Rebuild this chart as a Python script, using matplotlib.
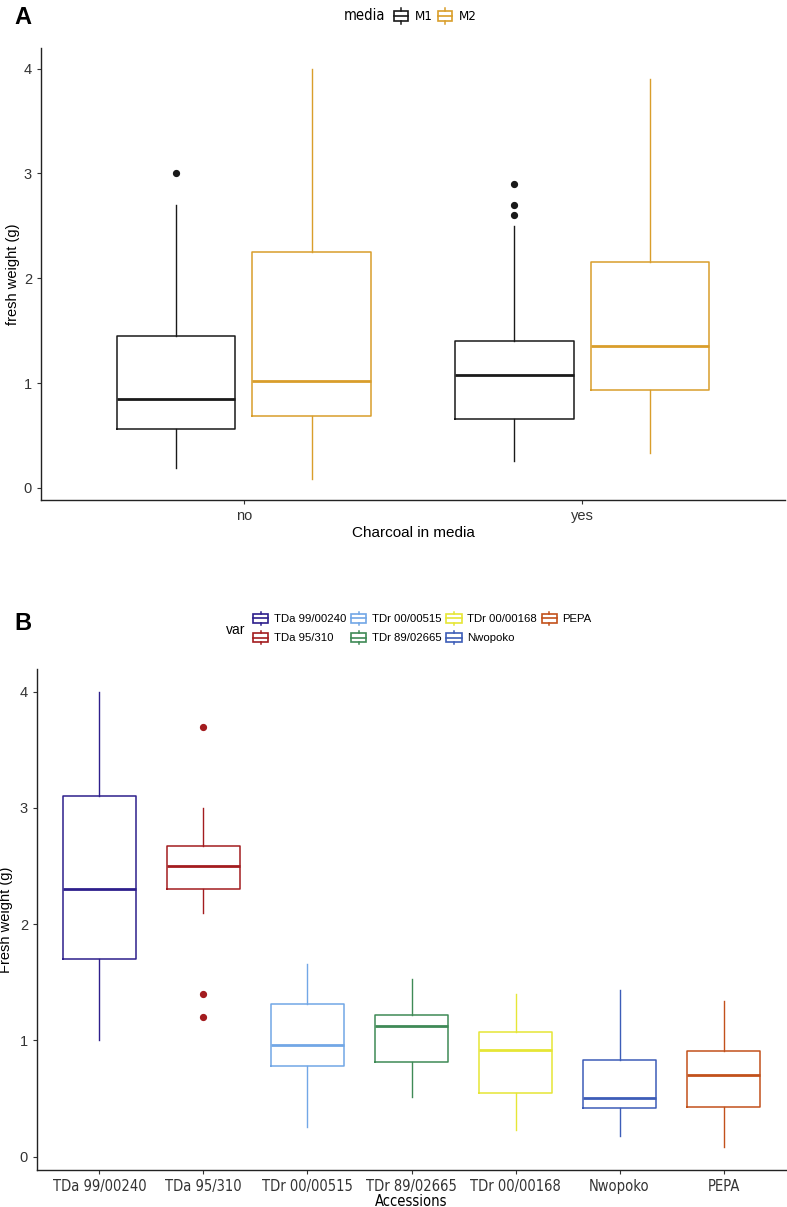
import matplotlib
matplotlib.use('Agg')
import matplotlib.pyplot as plt
import matplotlib.font_manager as fm
from matplotlib.lines import Line2D
from matplotlib.patches import Rectangle
from matplotlib.legend_handler import HandlerBase

plt.rcParams['font.family'] = ['Liberation Sans', 'DejaVu Sans']

# panel A: fresh weight by charcoal / media
charcoal = ['no', 'yes']
media = ['M1', 'M2']
media_colors = ['#1a1a1a', '#d99e2b']
# (whisker low, q1, median, q3, whisker high) per media, per charcoal level
m1_stats = [(0.19, 0.56, 0.85, 1.45, 2.70), (0.26, 0.66, 1.08, 1.40, 2.50)]
m2_stats = [(0.08, 0.69, 1.02, 2.25, 4.00), (0.33, 0.93, 1.35, 2.15, 3.90)]
m1_outliers = [[3.0], [2.9, 2.7, 2.6]]
m2_outliers = [[], []]

# panel B: fresh weight by accession
accessions = ['TDa 99/00240', 'TDa 95/310', 'TDr 00/00515', 'TDr 89/02665',
              'TDr 00/00168', 'Nwopoko', 'PEPA']
acc_colors = ['#2e1f8c', '#a31c1f', '#72a7e6', '#3f8a56', '#e6e636', '#3d5db8', '#c2511b']
acc_stats = [
    (1.00, 1.70, 2.30, 3.10, 4.00),
    (2.10, 2.30, 2.50, 2.67, 3.00),
    (0.25, 0.78, 0.96, 1.31, 1.66),
    (0.51, 0.81, 1.12, 1.22, 1.53),
    (0.23, 0.55, 0.92, 1.07, 1.40),
    (0.18, 0.42, 0.50, 0.83, 1.43),
    (0.08, 0.43, 0.70, 0.91, 1.34),
]
acc_outliers = [[], [3.7, 1.4, 1.2], [], [], [], [], []]

W, H = 787, 1207
tick_col = '#333333'


def find_narrow():
    # look for a condensed sans face; fall back to plain Liberation Sans
    cands = []
    for f in fm.fontManager.ttflist:
        if f.style != 'normal' or f.weight not in (400, 'normal', 'regular', 'book'):
            continue
        if f.name == 'Liberation Sans Narrow':
            cands.append((0, f.fname))
        elif f.name == 'DejaVu Sans' and 'ondensed' in str(f.stretch) + f.fname:
            cands.append((1, f.fname))
        elif 'Condensed' in f.name or 'Narrow' in f.name:
            cands.append((2, f.fname))
    if cands:
        cands.sort()
        return fm.FontProperties(fname=cands[0][1]), True
    return fm.FontProperties(family='Liberation Sans'), False


narrow_fp, has_narrow = find_narrow()


def to_bxp(st, fl):
    lo, q1, med, q3, hi = st
    return dict(whislo=lo, q1=q1, med=med, q3=q3, whishi=hi, fliers=fl)


def draw_box(ax, st, fl, pos, width, col):
    ax.bxp([to_bxp(st, fl)], positions=[pos], widths=width, showcaps=False,
           patch_artist=False,
           boxprops=dict(color=col, linewidth=1.1),
           whiskerprops=dict(color=col, linewidth=1.0),
           medianprops=dict(color=col, linewidth=2.0),
           flierprops=dict(marker='o', markerfacecolor=col, markeredgecolor=col,
                           markersize=4.2, linestyle='none'))


class BoxHandler(HandlerBase):
    def create_artists(self, legend, orig_handle, xdescent, ydescent,
                       width, height, fontsize, trans):
        c = orig_handle.get_color()
        bw = width
        x0 = -xdescent
        cy = -ydescent + height / 2
        bh = height * 0.62
        rect = Rectangle((x0, cy - bh / 2), bw, bh, fill=False, ec=c, lw=1.2, transform=trans)
        med = Line2D([x0, x0 + bw], [cy, cy], color=c, lw=1.2, transform=trans)
        xm = x0 + bw / 2
        w1 = Line2D([xm, xm], [cy + bh / 2, -ydescent + height], color=c, lw=1.1, transform=trans)
        w2 = Line2D([xm, xm], [cy - bh / 2, -ydescent], color=c, lw=1.1, transform=trans)
        return [rect, med, w1, w2]


def style_axes(ax):
    for s in ['top', 'right']:
        ax.spines[s].set_visible(False)
    for s in ['left', 'bottom']:
        ax.spines[s].set_linewidth(1.0)
        ax.spines[s].set_color('#222222')
    ax.tick_params(direction='out', length=3, width=0.8, color='#333333',
                   labelcolor=tick_col, labelsize=10.5)
    ax.set_ylim(-0.116, 4.196)
    ax.set_yticks([0, 1, 2, 3, 4])


fig = plt.figure(figsize=(W / 100, H / 100), dpi=100)

# ---- panel A
axA = fig.add_axes([41 / W, 1 - 500 / H, (785 - 41) / W, (500 - 48) / H])
for i in range(len(charcoal)):
    draw_box(axA, m1_stats[i], m1_outliers[i], i + 1 - 0.2, 0.35, media_colors[0])
    draw_box(axA, m2_stats[i], m2_outliers[i], i + 1 + 0.2, 0.35, media_colors[1])
axA.set_xlim(0.4, 2.6)
axA.set_xticks([1, 2])
axA.set_xticklabels(charcoal)
style_axes(axA)
axA.set_xlabel('Charcoal in media', fontsize=11, labelpad=2)
axA.set_ylabel('fresh weight (g)', fontsize=10.5, labelpad=3)

fig.text(14 / W, 1 - 17 / H, 'A', fontsize=17, fontweight='bold', va='center', ha='left')
legA_fp = narrow_fp.copy()
legA_fp.set_size(10.5 if has_narrow else 9.5)
fig.text(344 / W, 1 - 16 / H, 'media', va='center', ha='left', fontproperties=legA_fp)
hA = [Line2D([], [], color=c) for c in media_colors]
fpA = narrow_fp.copy()
fpA.set_size(9.5 if has_narrow else 8.5)
fig.legend(hA, media, loc='center left', bbox_to_anchor=(394 / W, 1 - 16 / H),
           ncol=2, frameon=False, handler_map={Line2D: BoxHandler()},
           handlelength=1.05, handleheight=1.6, handletextpad=0.5, columnspacing=0.45,
           borderpad=0, borderaxespad=0, prop=fpA)

# ---- panel B
axB = fig.add_axes([37 / W, 1 - 1170 / H, (786 - 37) / W, (1170 - 669) / H])
for i in range(len(accessions)):
    draw_box(axB, acc_stats[i], acc_outliers[i], i + 1, 0.7, acc_colors[i])
axB.set_xlim(0.4, len(accessions) + 0.6)
axB.set_xticks(range(1, len(accessions) + 1))
style_axes(axB)
tickB_fp = narrow_fp.copy()
tickB_fp.set_size(10.5 if has_narrow else 9)
axB.set_xticklabels(accessions, fontproperties=tickB_fp)
labB_fp = tickB_fp.copy()
axB.set_xlabel('Accessions', fontproperties=labB_fp, labelpad=0)
axB.set_ylabel('Fresh weight (g)', fontsize=10.5, labelpad=5)

fig.text(14 / W, 1 - 624 / H, 'B', fontsize=17, fontweight='bold', va='center', ha='left')
fig.text(226 / W, 1 - 630 / H, 'var', fontsize=10, va='center', ha='left')
hB = [Line2D([], [], color=c) for c in acc_colors]
fig.legend(hB, accessions, loc='center left', bbox_to_anchor=(253 / W, 1 - 628 / H),
           ncol=4, frameon=False, handler_map={Line2D: BoxHandler()},
           handlelength=1.35, handleheight=1.45, handletextpad=0.45, columnspacing=0.45,
           labelspacing=0.5, borderpad=0, borderaxespad=0,
           prop=dict(family='Liberation Sans', size=8.2))

fig.savefig('out.png', dpi=100, facecolor='white')
